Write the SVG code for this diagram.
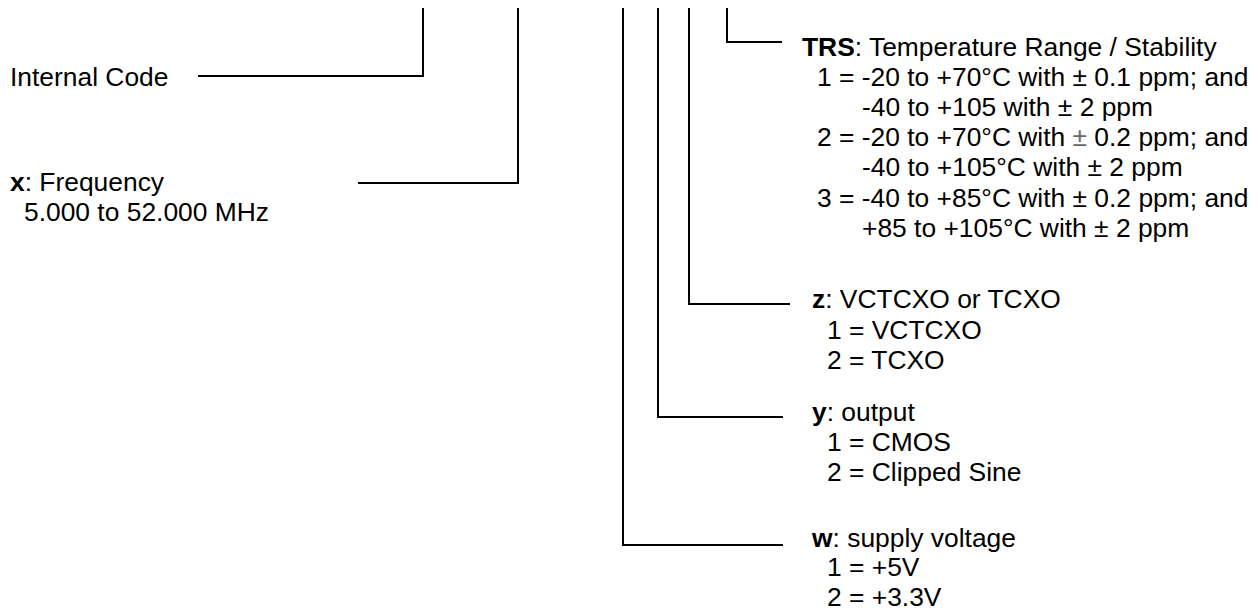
<svg xmlns="http://www.w3.org/2000/svg" width="1258" height="612" viewBox="0 0 1258 612">
<style>
text{font-family:"Liberation Sans",Arial,Helvetica,sans-serif;font-size:26.4px;fill:#000}
.b{font-weight:bold}
.thin{fill:#666}
.ln{fill:none;stroke:#000;stroke-width:2}
</style>
<rect width="1258" height="612" fill="#fff"/>
<g id="connectors">
<polyline class="ln" points="198,76 423,76 423,8"/>
<polyline class="ln" points="358,183 518,183 518,8"/>
<polyline class="ln" points="783,545 623,545 623,8"/>
<polyline class="ln" points="783,417 658,417 658,8"/>
<polyline class="ln" points="790,304 689,304 689,8"/>
<polyline class="ln" points="782,42 727,42 727,8"/>
</g>
<g id="internal-code">
<text x="10" y="86">Internal Code</text>
</g>
<g id="frequency">
<text x="10" y="191"><tspan class="b">x</tspan>: Frequency</text>
<text x="24" y="221">5.000 to 52.000 MHz</text>
</g>
<g id="trs">
<text x="802" y="56"><tspan class="b">TRS</tspan>: Temperature Range / Stability</text>
<text x="817" y="86">1 = -20 to +70°C with ± 0.1 ppm; and</text>
<text x="862" y="116">-40 to +105 with ± 2 ppm</text>
<text x="817" y="146">2 = -20 to +70°C with <tspan class="thin">±</tspan> 0.2 ppm; and</text>
<text x="862" y="176">-40 to +105°C with ± 2 ppm</text>
<text x="817" y="207">3 = -40 to +85°C with ± 0.2 ppm; and</text>
<text x="862" y="237">+85 to +105°C with ± 2 ppm</text>
</g>
<g id="z">
<text x="812" y="308"><tspan class="b">z</tspan>: VCTCXO or TCXO</text>
<text x="827" y="339">1 = VCTCXO</text>
<text x="827" y="369">2 = TCXO</text>
</g>
<g id="y">
<text x="812" y="421"><tspan class="b">y</tspan>: output</text>
<text x="827" y="451">1 = CMOS</text>
<text x="827" y="481">2 = Clipped Sine</text>
</g>
<g id="w">
<text x="812" y="547"><tspan class="b">w</tspan>: supply voltage</text>
<text x="827" y="576">1 = +5V</text>
<text x="827" y="606">2 = +3.3V</text>
</g>
</svg>
